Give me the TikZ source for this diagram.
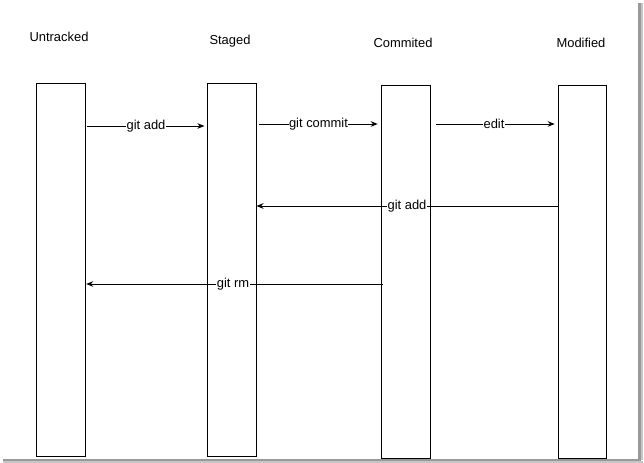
\documentclass[tikz,border=0pt]{standalone}
\usepackage{fontspec}
\setmainfont{Liberation Sans}
\usetikzlibrary{arrows.meta,positioning,calc}

\begin{document}
\begin{tikzpicture}[>={Stealth[length=5pt,width=4pt]},line width=0.7pt,
  statebox/.style={draw,minimum width=1.225cm,minimum height=9.325cm,inner sep=0pt},
  title/.style={font=\fontsize{9.2}{11}\selectfont},
  cmd/.style={midway,fill=white,inner sep=0.3pt,font=\fontsize{9.2}{11}\selectfont}]
\useasboundingbox (0,0) rectangle (16.1,11.575);
% window shadow
\fill[gray!80] (15.95,0.075) rectangle (16.025,11.5);
\fill[gray!45] (16.025,0.075) rectangle (16.075,11.5);
\fill[gray!80] (0.075,0.05) rectangle (16.025,0.1);
\fill[gray!45] (0.075,0.0) rectangle (16.075,0.05);
% states
\node[statebox] (untracked) at (1.5125,4.8375) {};
\node[statebox] (staged) at (5.7875,4.8375) {};
\node[statebox] (commited) at (10.1375,4.7875) {};
\node[statebox,minimum width=1.2cm] (modified) at (14.55,4.7875) {};
\node[title] (untrackedtitle) at (1.475,10.65) {Untracked};
\node[title] (stagedtitle) at (5.75,10.55) {Staged};
\node[title] (commitedtitle) at (10.075,10.5) {Commited};
\node[title] (modifiedtitle) at (14.525,10.5) {Modified};
% rows of the arrows
\coordinate (row1) at (0,8.425);
\coordinate (row2) at (0,8.475);
\coordinate (row3) at (0,6.425);
\coordinate (row4) at (0,4.475);
\draw[->,shorten <=1pt,shorten >=1.5pt] (untracked.east |- row1) -- (staged.west |- row1) node[cmd] {git add};
\draw[->,shorten <=1.5pt,shorten >=2pt] (staged.east |- row2) -- (commited.west |- row2) node[cmd] {git commit};
\draw[->,shorten <=4pt,shorten >=2pt] (commited.east |- row2) -- (modified.west |- row2) node[cmd] {edit};
\draw[->] (modified.west |- row3) -- (staged.east |- row3) node[cmd] {git add};
\draw[->,shorten <=-1.5pt,shorten >=0.5pt] (commited.west |- row4) -- (untracked.east |- row4) node[cmd] {git rm};
\end{tikzpicture}
\end{document}
